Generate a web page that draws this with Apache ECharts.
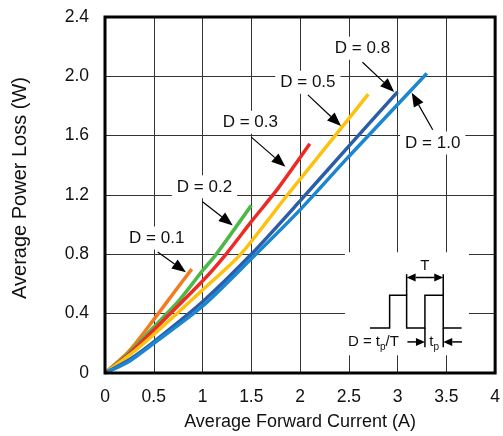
<!DOCTYPE html>
<html lang="en">
<head>
  <meta charset="UTF-8">
  <title>Average Power Loss vs Average Forward Current</title>
  <script src="https://cdn.jsdelivr.net/npm/echarts@6/dist/echarts.min.js"></script>
  <style>
    * { margin: 0; padding: 0; }
    html, body { width: 100%; height: 100%; background: #fff; }
    #chart { width: 503px; height: 436px; }
  </style>
</head>
<body>
<div id="chart"></div>
<script>
  // axis ranges (A on x, W on y)
  var xRange = [0, 4, 0.5];
  var yRange = [0, 2.4, 0.4];

  // curve names, one per duty cycle
  var dutyNames = ['D = 0.1', 'D = 0.2', 'D = 0.3', 'D = 0.5', 'D = 0.8', 'D = 1.0'];

  // [current A, power W]
  var curveD01 = [[0, 0], [0.25, 0.15], [0.5, 0.36], [0.75, 0.58], [0.89, 0.70]];
  var curveD02 = [[0, 0], [0.25, 0.14], [0.5, 0.31], [0.76, 0.49], [1.0, 0.69], [1.14, 0.80], [1.5, 1.13]];
  var curveD03 = [[0, 0], [0.25, 0.13], [0.5, 0.29], [1.0, 0.62], [1.24, 0.80], [1.5, 1.02], [1.78, 1.25], [2.1, 1.545]];
  var curveD05 = [[0, 0], [0.25, 0.12], [0.5, 0.26], [1.0, 0.56], [1.39, 0.80], [1.87, 1.20], [2.36, 1.60], [2.7, 1.88]];
  var curveD08 = [[0, 0], [0.25, 0.09], [0.5, 0.21], [1.0, 0.48], [1.5, 0.80], [2.0, 1.16], [2.5, 1.53], [3.0, 1.895]];
  var curveD10 = [[0, 0], [0.25, 0.08], [0.5, 0.20], [1.0, 0.45], [1.5, 0.77], [2.0, 1.10], [2.5, 1.46], [3.0, 1.81], [3.3, 2.02]];

  var curves = [curveD01, curveD02, curveD03, curveD05, curveD08, curveD10];
  var colors = ['#F47C20', '#4DB848', '#EE2A24', '#FDC20F', '#2B5DA8', '#1C87D1'];

  // callout placement in data units: label centre, arrow start, arrow tip
  var callouts = [
    { label: [0.53, 0.91], from: [0.54, 0.815], to: [0.83, 0.68] },
    { label: [1.02, 1.255], from: [1.0, 1.155], to: [1.31, 0.995] },
    { label: [1.49, 1.69], from: [1.50, 1.59], to: [1.85, 1.39] },
    { label: [2.08, 1.96], from: [2.08, 1.875], to: [2.42, 1.665] },
    { label: [2.64, 2.19], from: [2.64, 2.095], to: [2.965, 1.895] },
    { label: [3.36, 1.55], from: [3.36, 1.64], to: [3.145, 1.89] }
  ];

  var FONT = 'Liberation Sans, Arial, sans-serif';

  var chart = echarts.init(document.getElementById('chart'));

  var series = dutyNames.map(function (name, i) {
    return {
      name: name,
      type: 'line',
      data: curves[i],
      showSymbol: false,
      smooth: 0.25,
      lineStyle: { color: colors[i], width: 3.5 },
      itemStyle: { color: colors[i] },
      z: 3
    };
  });

  var option = {
    animation: false,
    backgroundColor: '#fff',
    grid: { left: 105, right: 4, top: 17, bottom: 63 },
    xAxis: {
      type: 'value',
      min: xRange[0], max: xRange[1], interval: xRange[2],
      name: 'Average Forward Current (A)',
      nameLocation: 'middle',
      nameGap: 40,
      nameTextStyle: { fontFamily: FONT, fontSize: 18, color: '#111' },
      axisLine: { show: false },
      axisTick: { show: false },
      axisLabel: { margin: 15, fontFamily: FONT, fontSize: 17.5, color: '#111' },
      splitLine: { show: true, lineStyle: { color: '#333', width: 1 } }
    },
    yAxis: {
      type: 'value',
      min: yRange[0], max: yRange[1], interval: yRange[2],
      name: 'Average Power Loss (W)',
      nameLocation: 'middle',
      nameGap: 75,
      nameTextStyle: { fontFamily: FONT, fontSize: 20, color: '#111', padding: [0, 0, 0, 14] },
      axisLine: { show: false },
      axisTick: { show: false },
      axisLabel: {
        margin: 16, fontFamily: FONT, fontSize: 17.5, color: '#111',
        formatter: function (v) { return v === 0 ? '0' : v.toFixed(1); }
      },
      splitLine: { show: true, lineStyle: { color: '#333', width: 1 } }
    },
    series: series
  };

  chart.setOption(option);

  // arrow = shaft + filled head, in pixels
  function arrow(p1, p2, len, hw, lw) {
    var dx = p2[0] - p1[0], dy = p2[1] - p1[1];
    var d = Math.sqrt(dx * dx + dy * dy);
    var ux = dx / d, uy = dy / d;
    var bx = p2[0] - ux * len, by = p2[1] - uy * len;
    return [
      { type: 'line', z: 20, shape: { x1: p1[0], y1: p1[1], x2: bx, y2: by },
        style: { stroke: '#000', lineWidth: lw } },
      { type: 'polygon', z: 20,
        shape: { points: [p2, [bx - uy * hw, by + ux * hw], [bx + uy * hw, by - ux * hw]] },
        style: { fill: '#000' } }
    ];
  }

  var px = function (p) { return chart.convertToPixel({ gridIndex: 0 }, p); };
  var g = [];

  // callouts
  callouts.forEach(function (c, i) {
    var lp = px(c.label);
    g.push({
      type: 'text', z: 19, x: lp[0], y: lp[1],
      style: {
        text: dutyNames[i], fontFamily: FONT, fontSize: 17, fill: '#111',
        align: 'center', verticalAlign: 'middle',
        backgroundColor: '#fff', padding: [3, 5]
      }
    });
    g = g.concat(arrow(px(c.from), px(c.to), 14, 5.5, 1.2));
  });

  // duty-cycle inset
  var box = px([2.46, 0.12]);
  var ox = box[0], oy = box[1] - 103;
  var ins = [];
  ins.push({ type: 'rect', z: 18, shape: { x: 0, y: 0, width: 124, height: 103 }, style: { fill: '#fff' } });
  ins.push({ type: 'polyline', z: 20, shape: { points: [[25, 75.7], [44.7, 75.7], [44.7, 43], [61.7, 43], [61.7, 75.7],
      [80, 75.7], [80, 43], [98.3, 43], [98.3, 75.7], [116.7, 75.7]] }, style: { stroke: '#000', lineWidth: 1.5, fill: null } });
  [[61.7, 22, 43], [98.3, 22, 43], [98.3, 75.7, 95], [80, 75.7, 95]].forEach(function (l) {
    ins.push({ type: 'line', z: 20, shape: { x1: l[0], y1: l[1], x2: l[0], y2: l[2] }, style: { stroke: '#000', lineWidth: 1.5 } });
  });
  ins = ins.concat(arrow([80, 25.3], [61.7, 25.3], 9, 4, 1.5));
  ins = ins.concat(arrow([80, 25.3], [98.3, 25.3], 9, 4, 1.5));
  ins = ins.concat(arrow([62.5, 89.7], [80, 89.7], 9, 4, 1.5));
  ins = ins.concat(arrow([117, 89.7], [98.3, 89.7], 9, 4, 1.5));
  ins.push({ type: 'text', z: 20, x: 80, y: 14, style: { text: 'T', fontFamily: FONT, fontSize: 15, fill: '#111', align: 'center', verticalAlign: 'middle' } });
  var rich = {
    m: { fontFamily: FONT, fontSize: 15, fill: '#111', lineHeight: 20 },
    s: { fontFamily: FONT, fontSize: 10, fill: '#111', lineHeight: 10, padding: [10, 0, 0, 0], verticalAlign: 'top' }
  };
  ins.push({ type: 'text', z: 20, x: 89.3, y: 89.7, style: { text: '{m|t}{s|p}', rich: rich, align: 'center', verticalAlign: 'middle' } });
  ins.push({ type: 'text', z: 20, x: 54, y: 89.7, style: { text: '{m|D = t}{s|p}{m|/T}', rich: rich, align: 'right', verticalAlign: 'middle' } });
  g.push({ type: 'group', x: ox, y: oy, children: ins });

  // plot frame on top
  var tl = px([xRange[0], yRange[1]]), br = px([xRange[1], yRange[0]]);
  g.push({ type: 'rect', z: 25, shape: { x: tl[0], y: tl[1], width: br[0] - tl[0], height: br[1] - tl[1] },
    style: { fill: null, stroke: '#000', lineWidth: 3 } });

  chart.setOption({ graphic: g });
</script>
</body>
</html>
